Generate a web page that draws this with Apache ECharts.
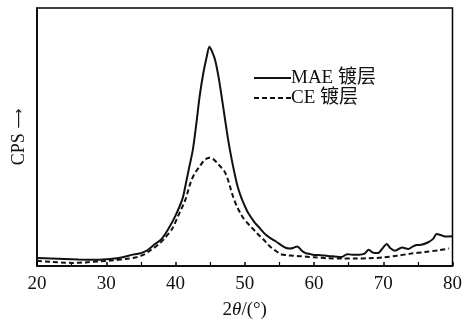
<!DOCTYPE html>
<html>
<head>
<meta charset="utf-8">
<script src="https://cdn.jsdelivr.net/npm/echarts@6/dist/echarts.min.js"></script>
<style>
html,body{margin:0;padding:0;background:#fff;}
#chart{width:465px;height:325px;}
</style>
</head>
<body>
<div id="chart"></div>
<script>
// 2θ positions and intensities (arbitrary units)
const maeX = [20,22,24,26,28,30,32,34,35,36,37,38,39,40,41,41.5,42,42.5,43,43.5,44,44.5,44.9,45.3,45.7,46.2,46.7,47.2,47.6,48.1,48.6,49,49.5,50,50.5,51,51.5,52,52.5,53,53.5,54,54.5,55,55.5,56,56.5,57,57.6,58.2,58.8,59.5,60,61,62,63,64,64.8,65.5,66.5,67.3,67.9,68.5,69.2,70,70.5,71,71.7,72.7,73.6,74.3,74.8,75.5,76.5,77.2,77.7,78.3,78.9,80];
const maeY = [3.1,2.9,2.7,2.5,2.4,2.6,3.2,4.5,5.0,6.2,8.4,10.5,14.5,19.5,26,32,38.5,45,55,66,74.5,81,85,83,80,73.5,65,56,49,41.5,35,30.5,26.5,23.3,20.5,18.5,16.6,15.2,13.6,12.2,11.2,10.3,9.5,8.6,7.7,7.0,6.8,7.0,7.6,6.0,5.0,4.6,4.3,4.2,3.9,3.7,3.5,4.6,4.4,4.4,4.8,6.3,5.2,5.0,7.2,8.5,7.0,5.9,7.2,6.6,7.6,8.1,8.2,9.2,10.5,12.4,12.0,11.4,11.5];
const ceX = [20,22,24,25.2,27,29,31,33,34.5,35.5,36.5,37.5,38.5,39.5,40.4,41,41.4,41.8,42.2,42.6,43,43.5,44,44.5,44.9,45.4,46,46.6,47.1,47.5,47.9,48.3,48.8,49.3,49.8,50.4,50.9,51.5,52.1,52.6,53.2,53.8,54.5,55.2,56,57,58,59,60,62,64,66,68,70,72,74,76,78,79.5];
const ceY = [2.0,1.6,1.3,1.2,1.4,1.8,2.2,2.8,3.5,4.5,6.3,8.2,11,14.3,19.5,23,25.5,29,32.5,35,36.8,38.6,40.5,41.6,42,41.5,40,38.2,36.5,34,30.5,27,23.5,20.8,18.5,16.6,15.2,13.5,11.8,10.6,8.8,7.2,5.8,4.6,4.2,4.0,3.8,3.6,3.4,3.0,2.9,2.9,3.0,3.3,4.0,4.8,5.4,6.1,6.8];
const xTicks = [20,30,40,50,60,70,80];
const seriesNames = ['MAE 镀层','CE 镀层'];

const pairs = (xs, ys) => xs.map((x, i) => [x, ys[i]]);
const serif = '"Liberation Serif", "Noto Sans CJK SC", serif';
const solidIcon = 'path://M0,0h37v2h-37z';
const dashIcon = 'path://M0,0h5v2h-5z M8,0h5v2h-5z M16,0h5v2h-5z M24,0h5v2h-5z M32,0h5v2h-5z';

const chart = echarts.init(document.getElementById('chart'), null, {renderer: 'canvas'});
chart.setOption({
  animation: false,
  backgroundColor: '#fff',
  grid: {left: 37, right: 9, top: 8, bottom: 58, show: true, borderColor: '#000', borderWidth: 1.5, backgroundColor: 'transparent'},
  legend: {
    orient: 'vertical', left: 249, top: 63, itemWidth: 37, itemHeight: 2, itemGap: 0,
    textStyle: {fontFamily: serif, fontSize: 19, color: '#111', lineHeight: 20, padding: [0,0,0,-5]},
    data: [{name: seriesNames[0], icon: solidIcon}, {name: seriesNames[1], icon: dashIcon}]
  },
  xAxis: {
    type: 'value', min: xTicks[0], max: xTicks[xTicks.length-1], interval: 10,
    name: '2{i|θ}/(°)', nameLocation: 'middle', nameGap: 35,
    nameTextStyle: {fontFamily: serif, fontSize: 19, color: '#111',
      rich: {i: {fontFamily: serif, fontSize: 19, fontStyle: 'italic', color: '#111'}}},
    axisLine: {show: true, lineStyle: {color: '#000', width: 1.5}},
    axisTick: {show: true, inside: true, length: 4, lineStyle: {color: '#000', width: 1.5}},
    minorTick: {show: true, splitNumber: 2, length: 4, lineStyle: {color: '#000', width: 1.2}},
    axisLabel: {fontFamily: serif, fontSize: 19, color: '#111', margin: 9},
    splitLine: {show: false}
  },
  yAxis: {
    type: 'value', min: 0, max: 100,
    name: 'CPS {a|⟶}', nameLocation: 'middle', nameGap: 9,
    nameTextStyle: {fontFamily: serif, fontSize: 18, color: '#111',
      rich: {a: {fontFamily: '"DejaVu Sans", sans-serif', fontSize: 14, color: '#111'}}},
    axisLine: {show: true, lineStyle: {color: '#000', width: 1.5}},
    axisTick: {show: false}, axisLabel: {show: false}, splitLine: {show: false}
  },
  series: [
    {name: seriesNames[0], type: 'line', data: pairs(maeX, maeY), smooth: 0.3, showSymbol: false, symbol: 'none',
      lineStyle: {color: '#111', width: 2}, itemStyle: {color: '#111'}},
    {name: seriesNames[1], type: 'line', data: pairs(ceX, ceY), smooth: 0.3, showSymbol: false, symbol: 'none',
      lineStyle: {color: '#111', width: 2, type: [5, 3]}, itemStyle: {color: '#111'}}
  ]
});
</script>
</body>
</html>
